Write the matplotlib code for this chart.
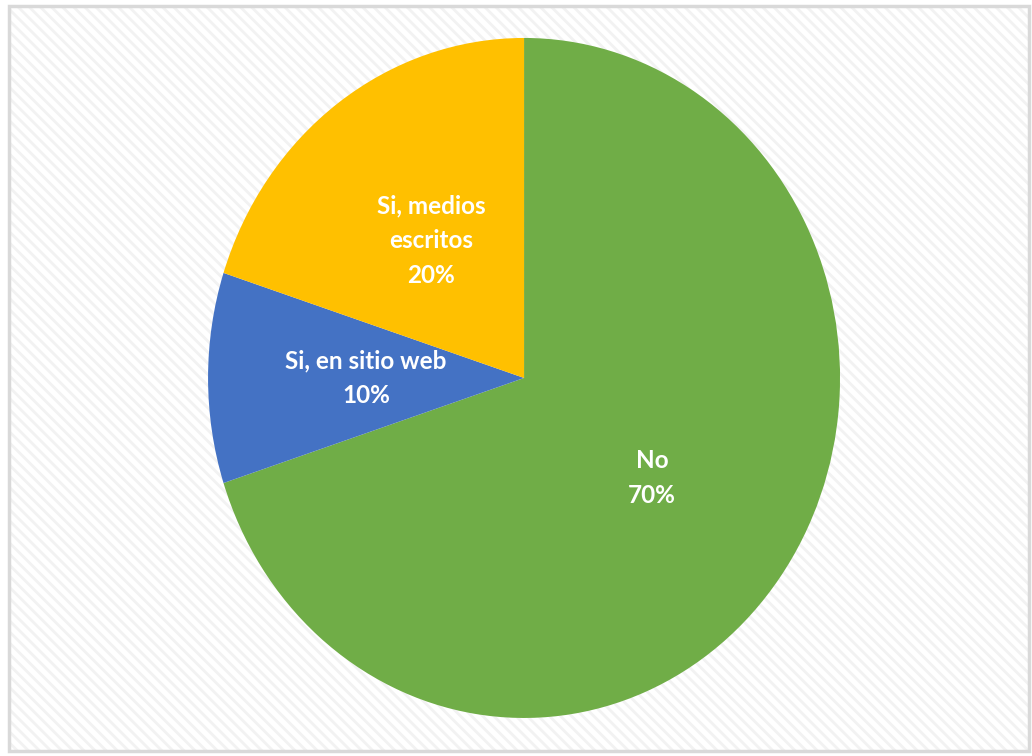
import matplotlib.pyplot as plt
from matplotlib.patches import Rectangle

categories = ['No', 'Si, en sitio web', 'Si, medios\nescritos']
values = [70, 10, 20]
colors = ['#70AD47', '#4472C4', '#FFC000']

plt.rcParams['hatch.linewidth'] = 2.0

fig = plt.figure(figsize=(10.32, 7.56), dpi=100)

# hatched background + grey frame, like the Excel chart area
bg = Rectangle((0.009, 0.006), 0.988, 0.986, transform=fig.transFigure,
               facecolor='white', edgecolor='#f2f2f2', hatch='\\\\\\', linewidth=0,
               zorder=-2)
fig.patches.append(bg)
frame = Rectangle((0.009, 0.006), 0.988, 0.986, transform=fig.transFigure,
                  facecolor='none', edgecolor='#d9d9d9', linewidth=2.5, zorder=-1)
fig.patches.append(frame)

ax = fig.add_axes([0.2016, 0.0503, 0.6124, 0.8995])
labels = [f'{c}\n{v}%' for c, v in zip(categories, values)]
wedges, texts = ax.pie(values, labels=labels, colors=colors, startangle=90,
                       counterclock=False, labeldistance=0.5,
                       wedgeprops=dict(linewidth=0),
                       textprops=dict(color='white', fontsize=17.5, fontweight='bold',
                                      family=['Lato', 'DejaVu Sans'], linespacing=1.62))
for t in texts:
    t.set_ha('center')
    t.set_va('center')
ax.set_xlim(-1, 1)
ax.set_ylim(-1, 1)
ax.set_aspect('auto')
ax.axis('off')

fig.savefig('out.png', dpi=100)
